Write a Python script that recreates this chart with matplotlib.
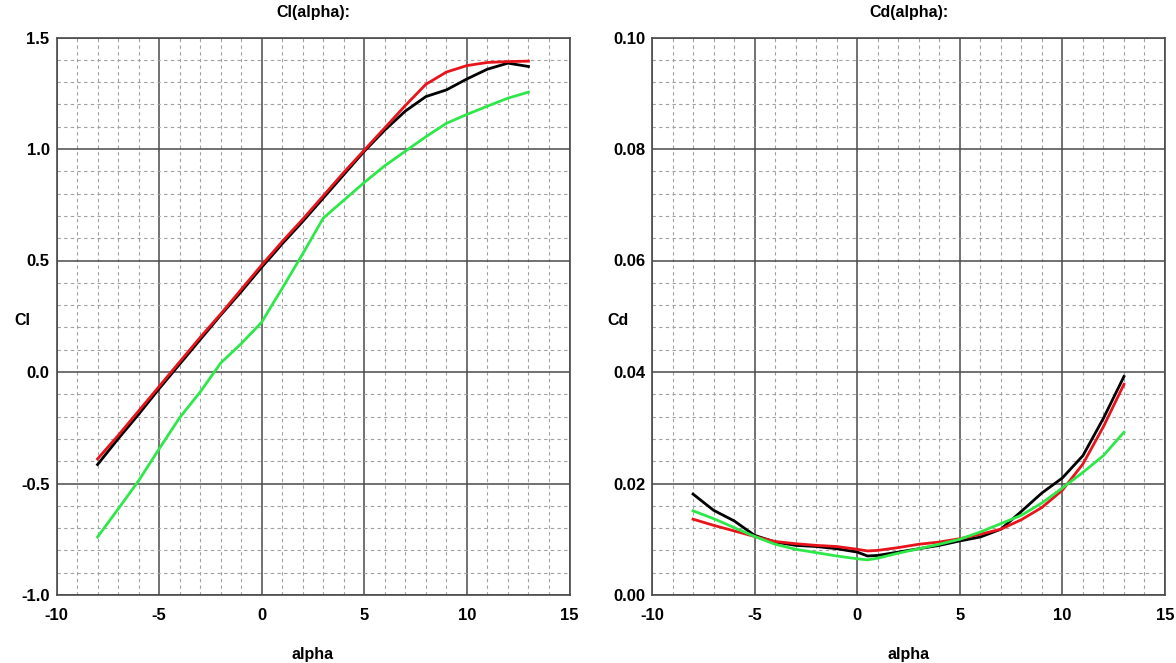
import matplotlib
matplotlib.use("Agg")
import matplotlib.pyplot as plt
from matplotlib.ticker import MultipleLocator, FormatStrFormatter

plt.rcParams['font.family'] = ['Liberation Sans', 'DejaVu Sans']
plt.rcParams['axes.unicode_minus'] = False

# ---- data ----
alpha = [-8, -7, -6, -5, -4, -3, -2, -1, 0, 0.5, 1, 2, 3, 4, 5, 6, 7, 8, 9, 10, 11, 12, 13]

cl_black = [-0.415, -0.30, -0.19, -0.075, 0.035, 0.145, 0.255, 0.36, 0.47, 0.522, 0.575, 0.675, 0.78,
            0.885, 0.99, 1.085, 1.17, 1.235, 1.265, 1.314, 1.358, 1.385, 1.37]
cl_red = [-0.39, -0.285, -0.175, -0.065, 0.045, 0.155, 0.26, 0.37, 0.48, 0.532, 0.585, 0.685, 0.79,
          0.895, 0.995, 1.095, 1.195, 1.29, 1.345, 1.374, 1.388, 1.392, 1.394]
cl_green = [-0.74, -0.615, -0.488, -0.345, -0.205, -0.09, 0.04, 0.127, 0.223, 0.30, 0.375, 0.53, 0.69,
            0.77, 0.85, 0.925, 0.99, 1.055, 1.115, 1.155, 1.192, 1.228, 1.255]

cd_black = [0.0181, 0.0152, 0.0133, 0.0107, 0.0095, 0.0089, 0.0087, 0.0083, 0.0077, 0.0070, 0.0071, 0.0077,
            0.0083, 0.0089, 0.0097, 0.0104, 0.0118, 0.0150, 0.0183, 0.0210, 0.0250, 0.0317, 0.0392]
cd_red = [0.0136, 0.0125, 0.0115, 0.0105, 0.0096, 0.0092, 0.0089, 0.0087, 0.0082, 0.0079, 0.0080, 0.0085,
          0.0091, 0.0095, 0.0101, 0.0109, 0.0118, 0.0135, 0.0157, 0.0188, 0.0235, 0.0302, 0.0378]
cd_green = [0.0151, 0.0137, 0.0121, 0.0105, 0.0091, 0.0082, 0.0076, 0.0070, 0.0065, 0.0063, 0.0066, 0.0075,
            0.0083, 0.0091, 0.0100, 0.0113, 0.0128, 0.0143, 0.0165, 0.0192, 0.0220, 0.0250, 0.0292]

colors = {'black': '#000000', 'red': '#e8141c', 'green': '#2ee84a'}

fig = plt.figure(figsize=(11.76, 6.63), dpi=100)
ax1 = fig.add_axes([56.5 / 1176, 1 - 595 / 663, 513 / 1176, 557.5 / 663])
ax2 = fig.add_axes([652 / 1176, 1 - 595 / 663, 513 / 1176, 557.5 / 663])


def style(ax, ymin, ymax, ymaj, ymin_step, fmt, title, ylabel):
    ax.set_xlim(-10, 15)
    ax.set_ylim(ymin, ymax)
    ax.xaxis.set_major_locator(MultipleLocator(5))
    ax.xaxis.set_minor_locator(MultipleLocator(1))
    ax.yaxis.set_major_locator(MultipleLocator(ymaj))
    ax.yaxis.set_minor_locator(MultipleLocator(ymin_step))
    ax.yaxis.set_major_formatter(FormatStrFormatter(fmt))
    ax.grid(which='major', color='#4a4a4a', linewidth=1.1, linestyle='-')
    ax.grid(which='minor', color='#a0a0a0', linewidth=0.8, linestyle=(0, (3, 3)))
    ax.set_axisbelow(True)
    ax.tick_params(which='both', length=0)
    ax.tick_params(axis='x', pad=9, labelsize=12)
    ax.tick_params(axis='y', pad=5, labelsize=12)
    for lab in ax.get_xticklabels() + ax.get_yticklabels():
        lab.set_fontweight('bold')
    for s in ax.spines.values():
        s.set_color('#4a4a4a')
        s.set_linewidth(1.2)
    ax.set_title(title, fontsize=11.5, fontweight='bold', pad=15)
    ax.set_xlabel('alpha', fontsize=11.5, fontweight='bold', labelpad=18)
    ax.set_ylabel(ylabel, fontsize=11.5, fontweight='bold', rotation=0, va='center', ha='center')
    ax.yaxis.set_label_coords(-0.066, 0.493)


style(ax1, -1.0, 1.5, 0.5, 0.1, '%.1f', 'Cl(alpha):', 'Cl')
style(ax2, 0.0, 0.10, 0.02, 0.004, '%.2f', 'Cd(alpha):', 'Cd')

for ax, b, r, g in [(ax1, cl_black, cl_red, cl_green), (ax2, cd_black, cd_red, cd_green)]:
    ax.plot(alpha, b, color=colors['black'], linewidth=2.0, zorder=3)
    ax.plot(alpha, r, color=colors['red'], linewidth=2.0, zorder=4)
    ax.plot(alpha, g, color=colors['green'], linewidth=2.0, zorder=5)

fig.savefig('out.png', dpi=100)
